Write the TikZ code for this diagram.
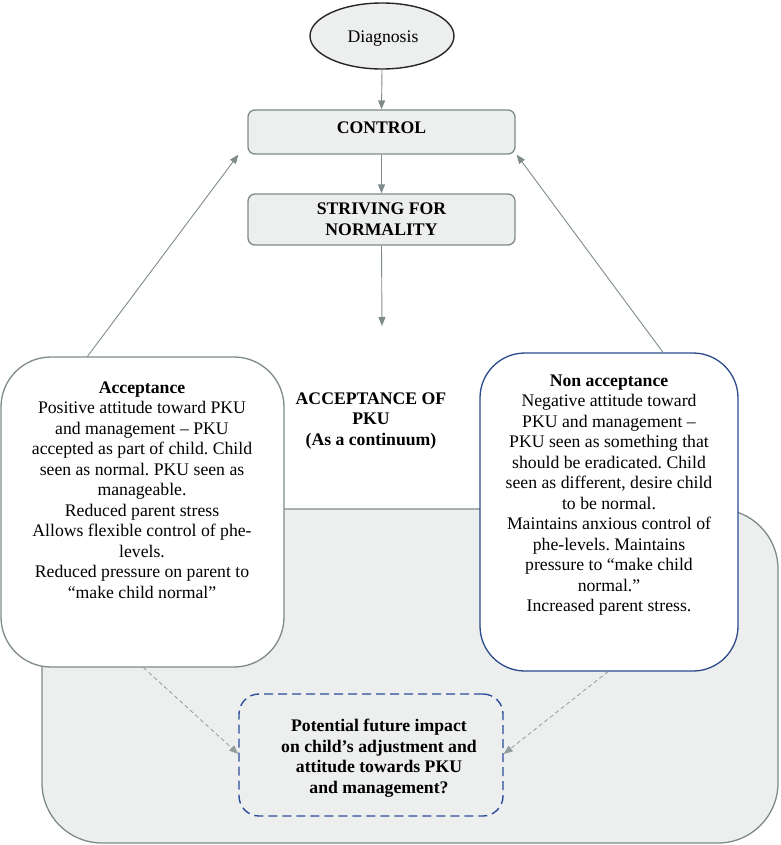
\documentclass[tikz,border=0pt]{standalone}
\usepackage{fontspec}
\setmainfont{LiberationSerif}[Extension=.ttf, UprightFont=*-Regular, BoldFont=*-Bold, ItalicFont=*-Italic, BoldItalicFont=*-BoldItalic]
\usetikzlibrary{arrows.meta,shapes.geometric,calc}
\definecolor{boxgray}{HTML}{EDEEEE}
\definecolor{linegray}{HTML}{7E8A8A}
\definecolor{arrowgray}{HTML}{7F8B8B}
\definecolor{navy}{HTML}{2B4B8C}
\definecolor{dashblue}{HTML}{2C4E9C}
\tikzset{
  txt/.style={font=\rmfamily\fontsize{17.7}{20.5}\selectfont, align=center, inner sep=0pt},
  btxt/.style={font=\rmfamily\fontsize{17.7}{20.5}\selectfont\bfseries, align=center, inner sep=0pt},
  greybox/.style={draw=linegray, fill=boxgray, line width=1.3pt, rounded corners=7pt, minimum width=267pt, inner sep=0pt},
  bigbox/.style={draw=linegray, fill=white, line width=1.3pt, rounded corners=50pt, inner sep=0pt},
  arr/.style={draw=arrowgray, line width=0.9pt, -{Triangle[length=9pt,width=7pt]}, arrowgray},
  darr/.style={draw=arrowgray!85, line width=0.8pt, dash pattern=on 4pt off 3pt, -{Triangle[length=9pt,width=7pt]}},
}
\frenchspacing
\begin{document}
\begin{tikzpicture}[x=1pt,y=-1pt]
\useasboundingbox (0,0) rectangle (780,845);
% background region
\path[draw=linegray, fill=boxgray, line width=1.3pt, rounded corners=60pt] (42,509) rectangle (778,843);

% top chain
\node[ellipse, draw=black!85, fill=boxgray, line width=1.4pt, minimum width=144pt, minimum height=66pt, inner sep=0pt] (diag) at (382,36) {};
\node[txt] (diagt) at (383,39) {Diagnosis};
\node[greybox, minimum height=44pt] (control) at (381.5,132) {};
\node[btxt] (controlt) at (381.5,127.5) {CONTROL};
\node[greybox, minimum height=51pt] (striving) at (381.5,219.5) {};
\node[btxt] (strivingt) at (381.5,219) {STRIVING FOR\\NORMALITY};
\coordinate (midtip) at (382,326);

% side boxes
\node[bigbox, minimum width=283pt, minimum height=310pt] (acc) at (142.5,512) {};
\node[txt] (acct) at (142,490) {\textbf{Acceptance}\\
Positive attitude toward PKU\\
and management – PKU\\
accepted as part of child. Child\\
seen as normal. PKU seen as\\
manageable.\\
Reduced parent stress\\
Allows flexible control of phe-\\
levels.\\
Reduced pressure on parent to\\
“make child normal”};

\node[bigbox, draw=navy, rounded corners=45pt, minimum width=258pt, minimum height=318pt] (nacc) at (609,512) {};
\node[txt] (nacct) at (609,495) {\textbf{Non acceptance}\\
Negative attitude toward\\
PKU and management –\\
PKU seen as something that\\
should be eradicated. Child\\
seen as different, desire child\\
to be normal.\\
Maintains anxious control of\\
phe-levels. Maintains\\
pressure to “make child\\
normal.”\\
Increased parent stress.};

\node[btxt] (accpku) at (371,421) {ACCEPTANCE OF\\PKU\\(As a continuum)};

% future impact
\node[draw=dashblue, line width=1.4pt, dash pattern=on 9pt off 5pt, rounded corners=20pt, minimum width=264pt, minimum height=122pt, inner sep=0pt] (impact) at (371,755) {};
\node[btxt] (impactt) at (379,758) {Potential future impact\\on child’s adjustment and\\attitude towards PKU\\and management?};

% connectors
\draw[arr] (diag.south) -- (control.north);
\draw[arr] (control.south) -- (striving.north);
\draw[arr] (striving.south) -- (midtip);
\draw[arr] ($(acc.north)+(-55,0)$) -- ($(control.south west)+(-9,0)$);
\draw[arr] ($(nacc.north)+(54,0)$) -- ($(control.south east)+(1,0)$);
\draw[darr] ($(acc.south)+(1,0)$) -- ($(impact.west)+(0,-1)$);
\draw[darr] ($(nacc.south)+(-1,0)$) -- ($(impact.east)+(0,-1)$);
\end{tikzpicture}
\end{document}
